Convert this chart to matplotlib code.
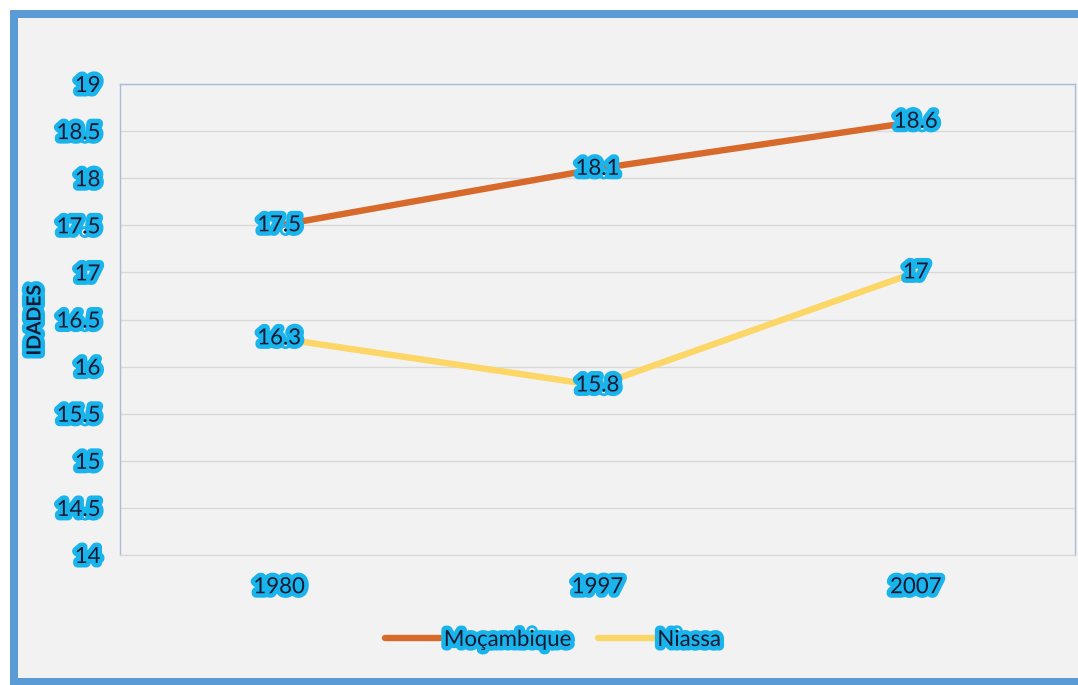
import matplotlib
matplotlib.use("Agg")
import matplotlib.pyplot as plt
import matplotlib.patheffects as pe
from matplotlib.patches import Rectangle
from matplotlib.lines import Line2D

years = ["1980", "1997", "2007"]
mocambique = [17.5, 18.1, 18.6]
niassa = [16.3, 15.8, 17.0]
niassa_labels = ["16.3", "15.8", "17"]
moc_labels = ["17.5", "18.1", "18.6"]
yticks = [14, 14.5, 15, 15.5, 16, 16.5, 17, 17.5, 18, 18.5, 19]
ytick_labels = ["14", "14.5", "15", "15.5", "16", "16.5", "17", "17.5", "18", "18.5", "19"]

W, H = 1078, 685
fig = plt.figure(figsize=(W / 100, H / 100), dpi=100)
fig.patch.set_facecolor("white")

FONT = ["Lato", "DejaVu Sans"]
TXT = "#141a33"
GLOW = [pe.withStroke(linewidth=6.5, foreground="#1ab4ec")]
FS = 16
LW = 4.6

# outer frame
fig.patches.append(Rectangle((10 / W, 0), (W - 10) / W, (H - 10) / H, transform=fig.transFigure,
                             facecolor="#5b9bd5", edgecolor="none", zorder=-10))
fig.patches.append(Rectangle((18 / W, 7 / H), (W - 18) / W, (H - 25) / H, transform=fig.transFigure,
                             facecolor="#f2f2f2", edgecolor="none", zorder=-9))

ax = fig.add_axes([120 / W, 1 - 555 / H, (1075 - 120) / W, (555 - 84) / H])
ax.set_facecolor("#f2f2f2")
x = list(range(len(years)))
ax.plot(x, mocambique, color="#d7692a", lw=LW, solid_capstyle="round", zorder=3)
ax.plot(x, niassa, color="#fcd667", lw=LW, solid_capstyle="round", zorder=3)

for xi, v, s in zip(x, mocambique, moc_labels):
    ax.text(xi, v, s, ha="center", va="center", fontsize=FS, color=TXT, family=FONT,
            path_effects=GLOW, zorder=5)
for xi, v, s in zip(x, niassa, niassa_labels):
    ax.text(xi, v, s, ha="center", va="center", fontsize=FS, color=TXT, family=FONT,
            path_effects=GLOW, zorder=5)

ax.set_xlim(-0.5, 2.5)
ax.set_ylim(14, 19)
ax.set_yticks(yticks)
ax.set_yticklabels(ytick_labels)
ax.set_xticks(x)
ax.set_xticklabels(years)
ax.grid(axis="y", color="#d9d9d9", lw=1)
ax.set_axisbelow(True)
ax.tick_params(length=0, pad=14)
ax.tick_params(axis="x", pad=16)
for lab in ax.get_yticklabels() + ax.get_xticklabels():
    lab.set_fontsize(FS)
    lab.set_color(TXT)
    lab.set_family(FONT)
    lab.set_path_effects(GLOW)
for side in ["top", "right", "bottom", "left"]:
    ax.spines[side].set_color("#a9bdd8")
    ax.spines[side].set_linewidth(1)
ax.spines["bottom"].set_color("#d9d9d9")

fig.text(35 / W, 1 - 320 / H, "IDADES", rotation=90, ha="center", va="center", fontsize=14,
         fontweight="bold", color=TXT, family=FONT, path_effects=GLOW)

handles = [Line2D([], [], color="#d7692a", lw=LW, solid_capstyle="round"),
           Line2D([], [], color="#fcd667", lw=LW, solid_capstyle="round")]
leg = fig.legend(handles, ["Moçambique", "Niassa"], loc="center", bbox_to_anchor=(553 / W, 1 - 640 / H),
                 ncol=2, frameon=False, handlelength=2.5, handletextpad=0.15, columnspacing=1.2,
                 prop={"family": FONT, "size": FS})
for t in leg.get_texts():
    t.set_color(TXT)
    t.set_path_effects(GLOW)

fig.savefig("out.png", dpi=100)
